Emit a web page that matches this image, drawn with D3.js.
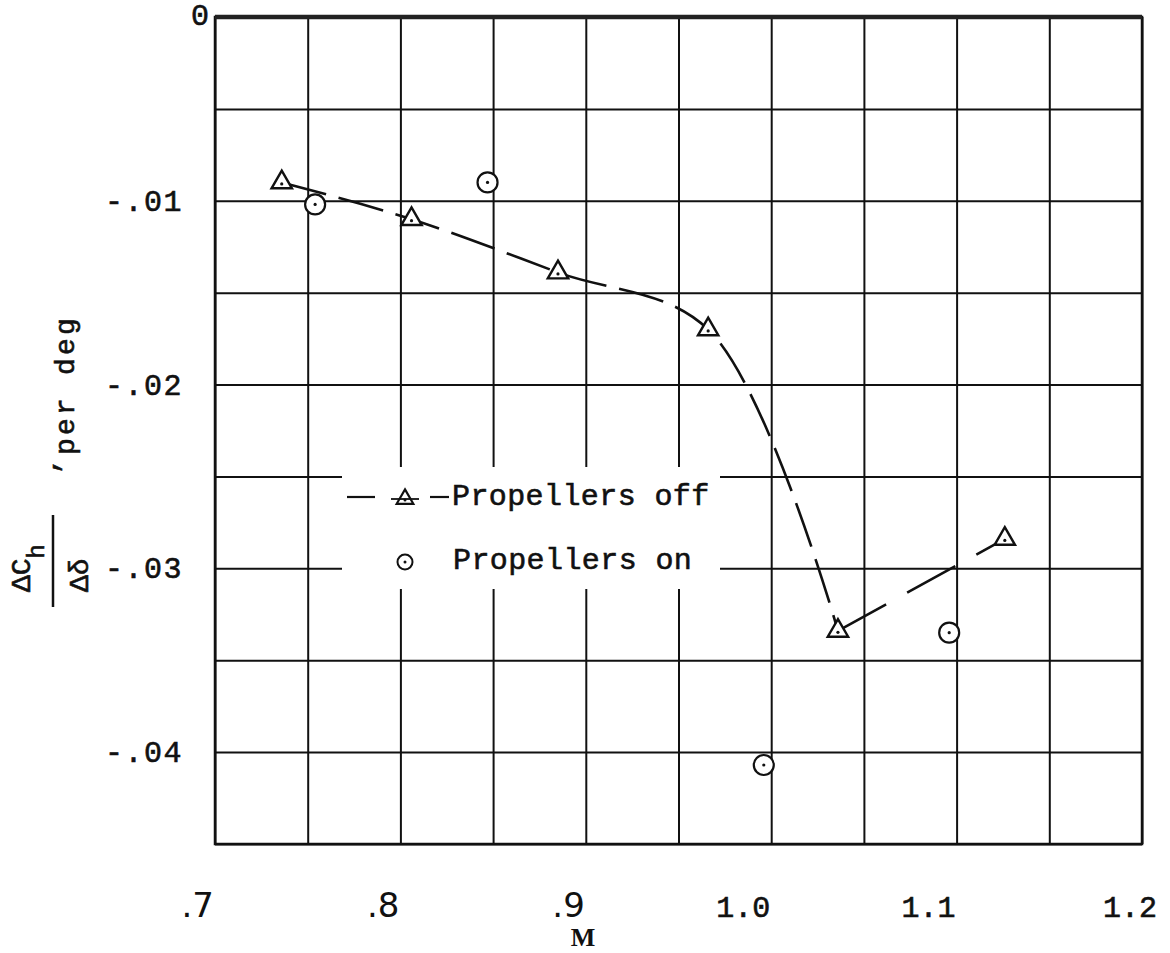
<!DOCTYPE html>
<html>
<head>
<meta charset="utf-8">
<script src="https://cdn.jsdelivr.net/npm/d3@7/dist/d3.min.js"></script>
<style>
  html, body { margin: 0; padding: 0; background: #fff; }
  svg { display: block; }
  .mono { font-family: "Liberation Mono", "DejaVu Sans Mono", monospace; fill: #111; stroke: #111; stroke-width: 0.6; }
  .sans { font-family: "DejaVu Sans", "Liberation Sans", sans-serif; fill: #111; }
  .serif { font-family: "Liberation Serif", "DejaVu Serif", serif; fill: #111; }
</style>
</head>
<body>
<svg id="chart" width="1170" height="953"></svg>
<script>
// Hinge-moment slope versus Mach number
const machOff  = [0.736, 0.806, 0.885, 0.966, 1.036, 1.126];
const slopeOff = [-0.0090, -0.0110, -0.0139, -0.0170, -0.0334, -0.0284];
const machOn   = [0.754, 0.847, 0.996, 1.096];
const slopeOn  = [-0.0102, -0.0090, -0.0407, -0.0335];

const xTickValues = [0.7, 0.8, 0.9, 1.0, 1.1, 1.2];
const xTickLabels = [".7", ".8", ".9", "1.0", "1.1", "1.2"];
const yTickValues = [0, -0.01, -0.02, -0.03, -0.04];
const yTickLabels = ["0", "-.01", "-.02", "-.03", "-.04"];
const xGridValues = [0.7, 0.75, 0.8, 0.85, 0.9, 0.95, 1.0, 1.05, 1.1, 1.15, 1.2];
const yGridValues = [0, -0.005, -0.01, -0.015, -0.02, -0.025, -0.03, -0.035, -0.04, -0.045];
const legendLabels = ["Propellers off", "Propellers on"];

(function draw() {
const svg = d3.select("#chart");
const pl = 215, pr = 1142, pt = 17, pb = 844;

const x = d3.scaleLinear().domain([0.7, 1.2]).range([pl, pr]);
const y = d3.scaleLinear().domain([0, -0.045]).range([pt, pb]);

// Grid: vertical and horizontal rules through the axis generators
const gx = svg.append("g")
  .attr("transform", `translate(0,${pb})`)
  .call(d3.axisBottom(x).tickValues(xGridValues).tickSize(-(pb - pt)).tickFormat(""));
const gy = svg.append("g")
  .attr("transform", `translate(${pl},0)`)
  .call(d3.axisLeft(y).tickValues(yGridValues).tickSize(-(pr - pl)).tickFormat(""));
[gx, gy].forEach(g => {
  g.select(".domain").remove();
  g.selectAll(".tick line").attr("stroke", "#111").attr("stroke-width", 2);
});

// Frame
svg.append("rect")
  .attr("x", pl).attr("y", pt)
  .attr("width", pr - pl).attr("height", pb - pt)
  .attr("fill", "none").attr("stroke", "#111").attr("stroke-width", 2.5);
svg.append("line")
  .attr("x1", pl).attr("x2", pr).attr("y1", pt).attr("y2", pt)
  .attr("stroke", "#222").attr("stroke-width", 4.5);

// Tick labels
svg.selectAll(".xlab").data(xTickValues).join("text")
  .attr("class", (d, i) => i < 3 ? "sans" : "mono")
  .attr("x", d => x(d) - 1 + (d > 1.15 ? 16 : 0))
  .attr("y", 917)
  .attr("text-anchor", "end")
  .attr("font-size", (d, i) => i < 3 ? 34 : 30)
  .text((d, i) => xTickLabels[i]);

svg.selectAll(".ylab").data(yTickValues).join("text")
  .attr("class", "mono")
  .attr("x", d => d === 0 ? 200 : 183)
  .attr("y", d => y(d) + (d === 0 ? 8 : 10))
  .attr("text-anchor", d => d === 0 ? "middle" : "end")
  .attr("font-size", 30)
  .attr("letter-spacing", d => d === 0 ? 0 : 1.5)
  .text((d, i) => yTickLabels[i]);

// Axis titles
svg.append("text")
  .attr("class", "serif")
  .attr("x", 583).attr("y", 946)
  .attr("text-anchor", "middle")
  .attr("font-size", 26).attr("font-weight", "bold")
  .text("M");

const yt = svg.append("g").attr("transform", "rotate(-90)");
const num = yt.append("text").attr("class", "mono")
  .attr("x", -592).attr("y", 30).attr("font-size", 28);
num.append("tspan").text("ΔC");
num.append("tspan").attr("dy", 14).attr("font-size", 24).text("h");
yt.append("text").attr("class", "mono")
  .attr("x", -592).attr("y", 88).attr("font-size", 28).text("Δδ");
svg.append("line")
  .attr("x1", 53).attr("x2", 53).attr("y1", 515).attr("y2", 607)
  .attr("stroke", "#111").attr("stroke-width", 2.5);
yt.append("text").attr("class", "mono")
  .attr("x", -474).attr("y", 57).attr("font-size", 28).text(",");
yt.append("text").attr("class", "mono")
  .attr("x", -455).attr("y", 74).attr("font-size", 28)
  .attr("letter-spacing", 3.2).text("per deg");

// Legend panel blanks out the grid behind it
svg.append("rect")
  .attr("x", 342).attr("y", 467).attr("width", 378).attr("height", 122)
  .attr("fill", "#fff");

// Propellers-off fairing: smooth through the subsonic points, straight beyond
const offPts = machOff.map((m, i) => [x(m), y(slopeOff[i])]);
const curve = d3.line().curve(d3.curveCatmullRom.alpha(0.5));
const straight = d3.line();
svg.append("path")
  .attr("d", curve(offPts.slice(0, 5)))
  .attr("fill", "none").attr("stroke", "#111").attr("stroke-width", 2.6)
  .attr("stroke-dasharray", "46,13");
svg.append("path")
  .attr("d", straight(offPts.slice(4)))
  .attr("fill", "none").attr("stroke", "#111").attr("stroke-width", 2.6)
  .attr("stroke-dasharray", "55,24");

// Markers
const tri = d3.symbol().type(d3.symbolTriangle).size(180);
const offG = svg.selectAll(".off").data(machOff).join("g")
  .attr("transform", (d, i) => `translate(${x(d)},${y(slopeOff[i])})`);
offG.append("path").attr("d", tri)
  .attr("fill", "#fff").attr("stroke", "#111").attr("stroke-width", 2.4);
offG.append("circle").attr("cy", 1.5).attr("r", 1.6).attr("fill", "#111");

const onG = svg.selectAll(".on").data(machOn).join("g")
  .attr("transform", (d, i) => `translate(${x(d)},${y(slopeOn[i])})`);
onG.append("circle").attr("r", 10)
  .attr("fill", "#fff").attr("stroke", "#111").attr("stroke-width", 2.2);
onG.append("circle").attr("r", 1.6).attr("fill", "#111");

// Legend entries
const lg = svg.append("g");
lg.append("line").attr("x1", 347).attr("x2", 375).attr("y1", 497).attr("y2", 497)
  .attr("stroke", "#111").attr("stroke-width", 2.2);
lg.append("path").attr("d", d3.symbol().type(d3.symbolTriangle).size(120)())
  .attr("transform", "translate(405,499)")
  .attr("fill", "#fff").attr("stroke", "#111").attr("stroke-width", 2.2);
lg.append("line").attr("x1", 391).attr("x2", 419).attr("y1", 499).attr("y2", 499)
  .attr("stroke", "#111").attr("stroke-width", 1.8);
lg.append("circle").attr("cx", 405).attr("cy", 500).attr("r", 1.5).attr("fill", "#111");
lg.append("line").attr("x1", 430).attr("x2", 449).attr("y1", 497).attr("y2", 497)
  .attr("stroke", "#111").attr("stroke-width", 2.2);
lg.append("text").attr("class", "mono")
  .attr("x", 452).attr("y", 505).attr("font-size", 30).attr("letter-spacing", 0.4)
  .text(legendLabels[0]);

lg.append("circle").attr("cx", 405).attr("cy", 562).attr("r", 7.5)
  .attr("fill", "#fff").attr("stroke", "#111").attr("stroke-width", 2);
lg.append("circle").attr("cx", 405).attr("cy", 562).attr("r", 1.5).attr("fill", "#111");
lg.append("text").attr("class", "mono")
  .attr("x", 453).attr("y", 569).attr("font-size", 30).attr("letter-spacing", 0.4)
  .text(legendLabels[1]);
})();
</script>
</body>
</html>
